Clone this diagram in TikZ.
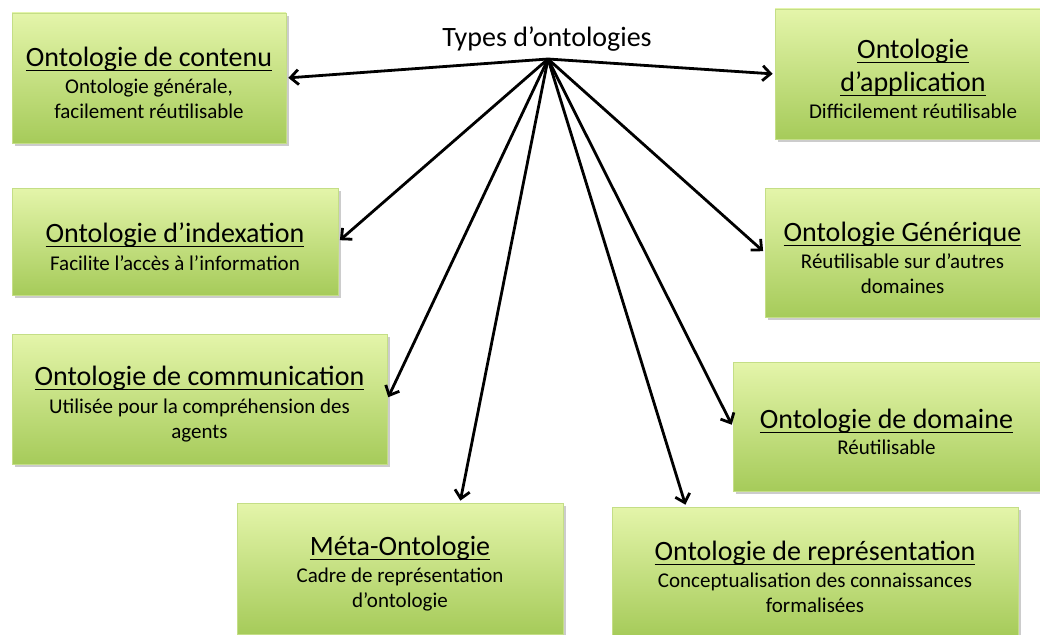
\documentclass[tikz,border=0pt]{standalone}
\usepackage{fontspec}
\setmainfont{Carlito}
\usetikzlibrary{arrows.meta,shadows}

\definecolor{boxtop}{RGB}{228,245,170}
\definecolor{boxbottom}{RGB}{166,203,90}
\definecolor{boxedge}{RGB}{196,222,134}

% underline drawn just below the baseline, crossing the descenders
\newsavebox\ulbox
\newcommand\uline[1]{\sbox\ulbox{#1}\rlap{\rule[-4.5pt]{\wd\ulbox}{1.4pt}}\usebox\ulbox}
\newcommand\headfont{\fontsize{28}{33}\selectfont}
% heading line of a box; the strut leaves some air above the first line
\newcommand\hd[1]{\rule{0pt}{30pt}{\headfont\uline{#1}}}

\begin{document}
\begin{tikzpicture}[x=1pt,y=-1pt,
  ontobox/.style={rectangle, inner sep=0pt, top color=boxtop, bottom color=boxbottom,
    draw=boxedge, line width=0.8pt,
    drop shadow={shadow xshift=2.5pt, shadow yshift=-3pt, opacity=0.2, fill=black},
    align=center, text=black,
    font={\fontsize{21}{25}\selectfont\lineskiplimit=-30pt}},
  link/.style={line width=2.8pt, shorten >=2pt, -{Straight Barb[length=8pt,width=15pt]}},
]
\useasboundingbox (0,0) rectangle (1040,634);
\fill[white] (0,0) rectangle (1040,634);
\clip (0,0) rectangle (1040,634);

% left column
\node[ontobox, minimum width=274pt, minimum height=130pt] (contenu) at (149,78)
  {\hd{Ontologie de contenu}\\[2pt] Ontologie générale,\\ facilement réutilisable};
\node[ontobox, minimum width=326pt, minimum height=107pt] (indexation) at (175,241.5)
  {\hd{Ontologie d’indexation}\\[3pt] Facilite l’accès à l’information};
\node[ontobox, minimum width=375pt, minimum height=130pt] (communication) at (199.5,399)
  {\hd{Ontologie de communication}\\[3pt] Utilisée pour la compréhension des\\ agents};

% bottom row
\node[ontobox, minimum width=326pt, minimum height=131pt] (meta) at (400,568.5)
  {\hd{Méta-Ontologie}\\[2pt] Cadre de représentation\\ d’ontologie};
\node[ontobox, minimum width=406pt, minimum height=129pt] (representation) at (815,571.5)
  {\hd{Ontologie de représentation}\\[2pt] Conceptualisation des connaissances\\ formalisées};

% right column
\node[ontobox, minimum width=276pt, minimum height=130pt] (application) at (913,74)
  {\hd{Ontologie}\\[8pt] {\headfont\uline{d’application}}\\[2pt] Difficilement réutilisable};
\node[ontobox, minimum width=275pt, minimum height=129pt] (generique) at (902.5,252.5)
  {\hd{Ontologie Générique}\\[2pt] Réutilisable sur d’autres\\ domaines};
\node[ontobox, minimum width=307pt, minimum height=129pt] (domaine) at (886.5,426.5)
  {\hd{Ontologie de domaine}\\[1pt] Réutilisable};

% root label and the fan of arrows
\node[font=\headfont, anchor=base, inner sep=0pt] (title) at (547,47) {Types d’ontologies};
\coordinate (hub) at (548,59);

\draw[link] (hub) -- (contenu.east);
\draw[link] (hub) -- (application.west);
\draw[link] (hub) -- (indexation.east);
\draw[link] (hub) -- (generique.west);
\draw[link] (hub) -- (communication.east);
\draw[link] (hub) -- (domaine.west);
\draw[link] (hub) -- ([xshift=60pt]meta.north);
\draw[link] (hub) -- ([xshift=-129pt]representation.north);
\end{tikzpicture}
\end{document}
